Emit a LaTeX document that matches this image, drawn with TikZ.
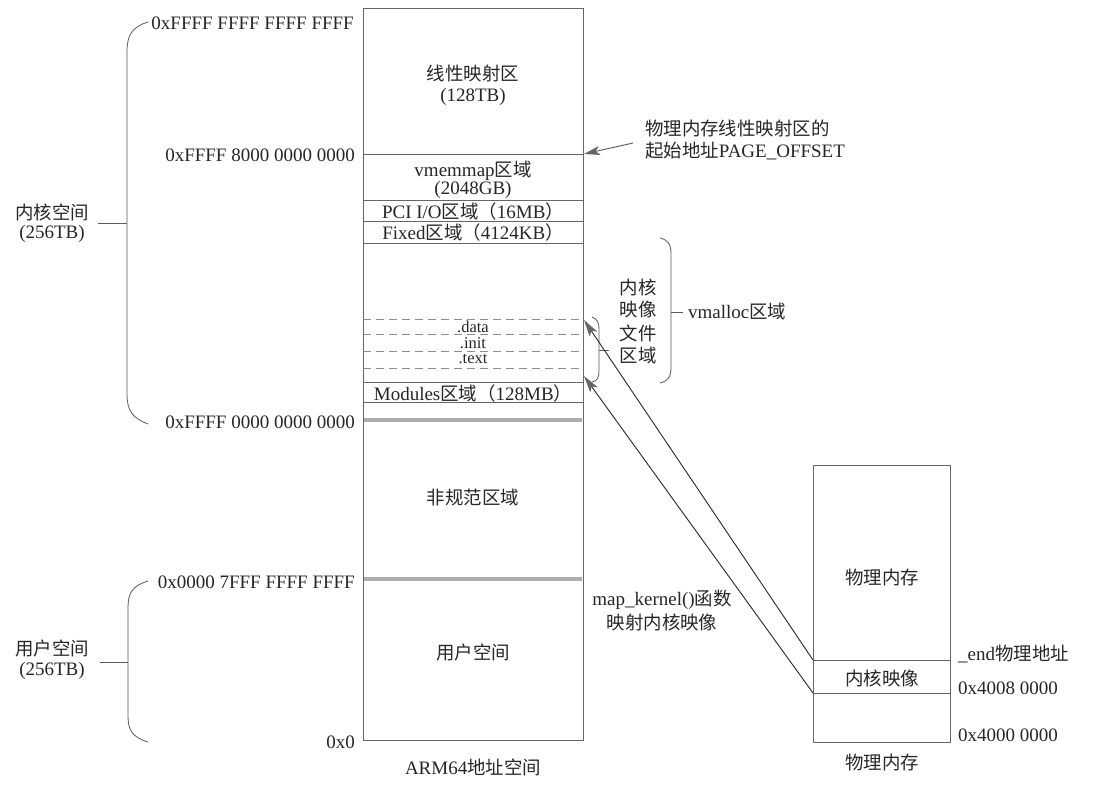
\documentclass[tikz,border=0pt]{standalone}
\usepackage{fontspec}
\setmainfont{Liberation Serif}
\newfontfamily\cjk{Noto Sans CJK SC}[Scale=0.97]
\newcommand{\zh}[1]{{\cjk #1}}
\usetikzlibrary{arrows.meta}
\begin{document}
\begin{tikzpicture}[x=1pt,y=-1pt,
  every node/.style={text=black!85, inner sep=0pt, font=\fontsize{19}{23}\selectfont},
  sect/.style={font=\fontsize{16.5}{18}\selectfont},
  ln/.style={draw=black!60, line width=0.8pt},
  thick gray/.style={draw=black!32, line width=3.2pt},
  dash line/.style={draw=black!45, line width=0.7pt, dash pattern=on 8pt off 5pt},
  brace/.style={draw=black!65, line width=0.8pt},
  conn/.style={draw=black!85, line width=0.9pt, -{Stealth[length=17pt,width=9pt,inset=4pt,color=black!60,fill=black!60]}},
  ptr/.style={draw=black!65, line width=0.9pt, -{Stealth[length=16pt,width=9pt,inset=4pt,color=black!60,fill=black!60]}}]
\useasboundingbox (0,0) rectangle (1102,784);

% ---------- main ARM64 address space column ----------
\draw[ln] (363,8) rectangle (583,740);
\draw[ln] (363,154) -- (583,154);
\draw[ln] (363,200) -- (583,200);
\draw[ln] (363,221) -- (583,221);
\draw[ln] (363,243) -- (583,243);
\draw[dash line] (363,319) -- (583,319);
\draw[dash line] (363,334) -- (583,334);
\draw[dash line] (363,351) -- (583,351);
\draw[dash line] (363,368) -- (583,368);
\draw[ln] (363,382) -- (583,382);
\draw[ln] (363,402) -- (583,402);
\draw[thick gray] (364,420) -- (582,420);
\draw[thick gray] (364,579) -- (582,579);

\coordinate (datatop) at (584,320);
\coordinate (modtop) at (584,376);
\coordinate (pgoff) at (584,154);

\node (lin)  at (473,74) {\zh{线性映射区}};
\node (lin2) at (473,97) {(128TB)};
\node (vmm)  at (473,171) {vmemmap\zh{区域}};
\node (vmm2) at (473,190) {(2048GB)};
\node (pci)  at (473,211) {PCI I/O\zh{区域（}16MB\zh{）}};
\node (fix)  at (473,232) {Fixed\zh{区域（}4124KB\zh{）}};
\node[sect] (sdata) at (473,327) {.data};
\node[sect] (sinit) at (473,343) {.init};
\node[sect] (stext) at (473,359) {.text};
\node (mods) at (473,393) {Modules\zh{区域（}128MB\zh{）}};
\node (noncan) at (473,497) {\zh{非规范区域}};
\node (user) at (473,652) {\zh{用户空间}};
\node (arm) at (473,767) {ARM64\zh{地址空间}};

% ---------- address labels ----------
\node[anchor=east] (a1) at (354,23) {0xFFFF FFFF FFFF FFFF};
\node[anchor=east] (a2) at (355,155) {0xFFFF 8000 0000 0000};
\node[anchor=east] (a3) at (355,422) {0xFFFF 0000 0000 0000};
\node[anchor=east] (a4) at (355,582) {0x0000 7FFF FFFF FFFF};
\node[anchor=east] (a5) at (355,742) {0x0};

% ---------- kernel space brace ----------
\draw[brace] (148,22) .. controls (132,27) and (127,35) .. (127,52) -- (127,394)
  .. controls (127,410) and (132,418) .. (148,424);
\coordinate (kb) at (127,223);
\coordinate (kbt) at (98,223);
\draw[brace] (kb) -- (kbt);
\node (ks1) at (52,212) {\zh{内核空间}};
\node (ks2) at (52,234) {(256TB)};

% ---------- user space brace ----------
\draw[brace] (148,581) .. controls (132,586) and (128,593) .. (128,608) -- (128,716)
  .. controls (128,730) and (132,737) .. (148,742);
\coordinate (ub) at (128,662);
\coordinate (ubt) at (100,662);
\draw[brace] (ub) -- (ubt);
\node (us1) at (52,648) {\zh{用户空间}};
\node (us2) at (52,671) {(256TB)};

% ---------- PAGE_OFFSET note ----------
\node[anchor=west] (po1) at (645,128) {\zh{物理内存线性映射区的}};
\node[anchor=west] (po2) at (645,151) {\zh{起始地址}PAGE\_OFFSET};
\coordinate (pofrom) at (633,143);
\draw[ptr] (pofrom) -- (pgoff);

% ---------- vmalloc brace ----------
\draw[brace] (660,238) .. controls (668,240) and (671,244) .. (671,254) -- (671,367)
  .. controls (671,377) and (668,381) .. (660,383);
\coordinate (vb) at (671,312);
\coordinate (vbt) at (683,312);
\draw[brace] (vb) -- (vbt);
\node[anchor=west] (vm) at (688,311) {vmalloc\zh{区域}};

% ---------- kernel image brace ----------
\draw[brace] (592,317) .. controls (597,319) and (599,322) .. (599,329) -- (599,371)
  .. controls (599,378) and (597,381) .. (592,382);
\coordinate (ib) at (599,350);
\coordinate (ibt) at (609,350);
\draw[brace] (ib) -- (ibt);
\node (ki1) at (638,287) {\zh{内核}};
\node (ki2) at (638,310) {\zh{映像}};
\node (ki3) at (638,333) {\zh{文件}};
\node (ki4) at (638,355) {\zh{区域}};

% ---------- physical memory ----------
\draw[ln] (813,465) rectangle (950,742);
\draw[ln] (813,660) -- (950,660);
\draw[ln] (813,693) -- (950,693);
\coordinate (kitop) at (813,660);
\coordinate (kibot) at (813,693);
\node (pm) at (882,578) {\zh{物理内存}};
\node (kimg) at (882,678) {\zh{内核映像}};
\node (pmcap) at (882,763) {\zh{物理内存}};
\node[anchor=west] (endl) at (958,654) {\_end\zh{物理地址}};
\node[anchor=west] (p1) at (958,688) {0x4008 0000};
\node[anchor=west] (p0) at (958,735) {0x4000 0000};

% ---------- mapping arrows ----------
\draw[conn] (kitop) -- (datatop);
\draw[conn] (kibot) -- (modtop);
\node (mk1) at (662,600) {map\_kernel()\zh{函数}};
\node (mk2) at (662,622) {\zh{映射内核映像}};
\end{tikzpicture}
\end{document}
